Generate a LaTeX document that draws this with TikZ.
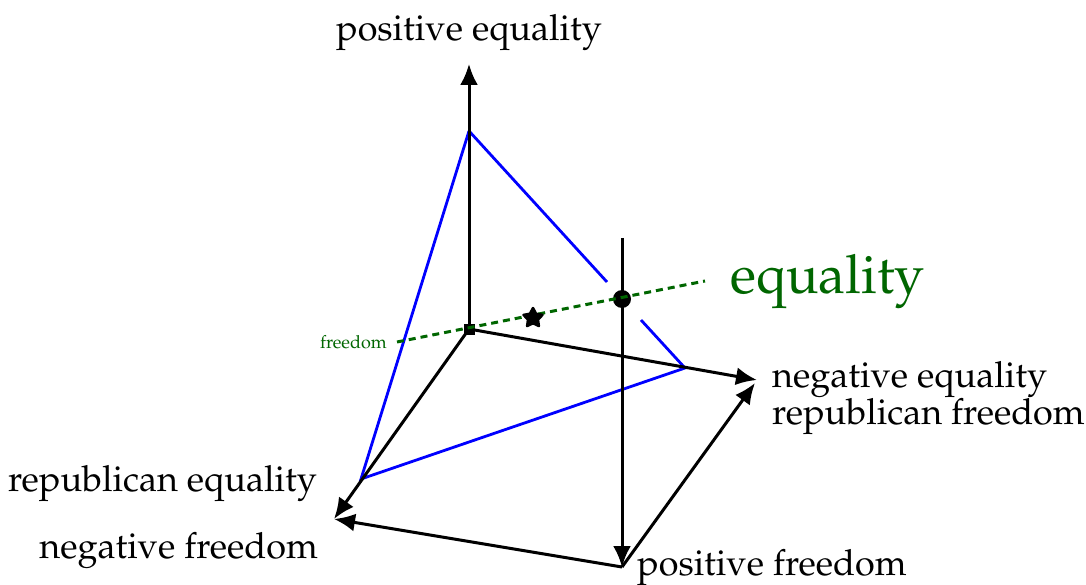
\documentclass[tikz,border=0pt]{standalone}
\usepackage[T1]{fontenc}
\usepackage{mathpazo}
\usetikzlibrary{arrows.meta,shapes.geometric}
\definecolor{dgreen}{RGB}{0,102,0}
\begin{document}
\begin{tikzpicture}[x=1pt,y=-1pt,
  axis/.style={line width=3pt,-{Latex[length=21pt,width=18pt]}},
  tri/.style={blue,line width=2.8pt},
  gline/.style={dgreen,line width=3pt,dash pattern=on 7pt off 5pt},
  lbl/.style={font=\fontsize{36}{32}\selectfont,inner sep=0pt,align=left},
  dot/.style={inner sep=0pt}]
\useasboundingbox (0,0) rectangle (1086,585);
% points
\coordinate (O) at (469,329);
\coordinate (Ttop) at (469,64);
\coordinate (Tv) at (469,131);
\coordinate (Lv) at (361,479);
\coordinate (Ltip) at (334,519);
\coordinate (Rv) at (685,368);
\coordinate (Rtip) at (757,380);
\coordinate (P) at (622,567);
\coordinate (Vtop) at (622,238);
\coordinate (B1) at (607,282);
\coordinate (B2) at (641,320);
\coordinate (Rtip2) at (755,383);
\coordinate (G1) at (397,342);
\coordinate (G2) at (705,281);
% blue triangle
\draw[tri] (Tv) -- (Lv) -- (Rv) -- (B2);
\draw[tri] (Tv) -- (B1);
% axes
\draw[axis] (O) -- (Ttop);
\draw[axis] (O) -- (Ltip);
\draw[axis] (O) -- (Rtip);
\draw[axis] (P) -- (Ltip);
\draw[axis] (P) -- (Rtip2);
\draw[axis] (Vtop) -- (P);
% markers below the green line
\node[dot,fill=black,minimum size=11pt] (sq) at (O) {};
\node[dot,circle,fill=black,minimum size=18pt] (circ) at (622,299) {};
% green line
\draw[gline] (G1) -- (G2);
% star on top
\node[dot,star,star points=5,star point ratio=1.9,fill=black,draw=black,line width=2.5pt,line join=round,minimum size=20pt] (st) at (533,318) {};
% labels
\node[lbl,anchor=center] (pe) at (469,33) {positive equality};
\node[lbl,anchor=west] (ne) at (772,398) {negative equality\\republican freedom};
\node[lbl,anchor=east] (re) at (317,484) {republican equality};
\node[lbl,anchor=east] (nf) at (318,551) {negative freedom};
\node[lbl,anchor=west] (pf) at (637,568) {positive freedom};
\node[lbl,anchor=west,text=dgreen,font=\fontsize{54}{58}\selectfont] (eq) at (730,282) {equality};
\node[lbl,anchor=east,text=dgreen,font=\fontsize{18}{20}\selectfont] (fr) at (387,342) {freedom};
\end{tikzpicture}
\end{document}
